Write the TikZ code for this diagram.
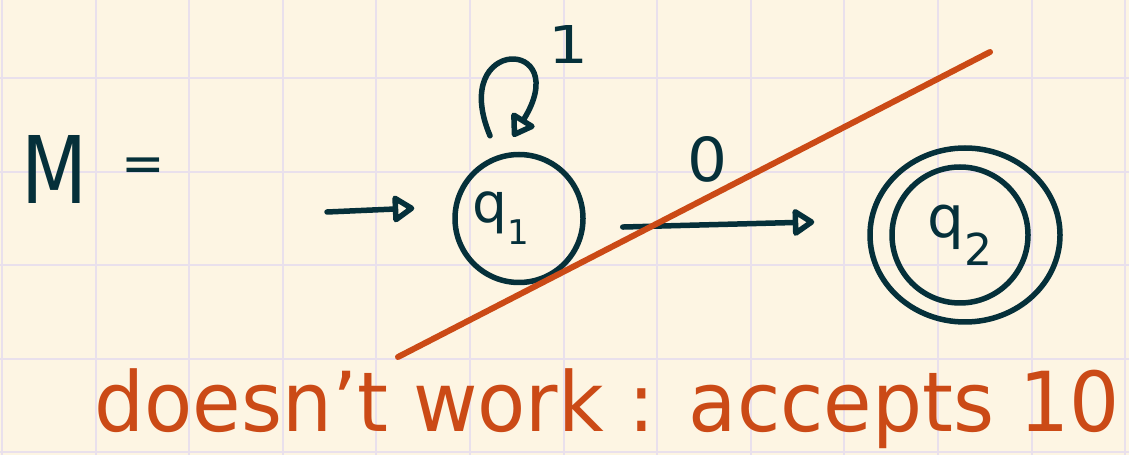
\documentclass[tikz,border=0pt]{standalone}
\usepackage{fontspec}
\setmainfont{DejaVu Sans}
\usetikzlibrary{arrows.meta}
\definecolor{bgc}{HTML}{FDF5E3}
\definecolor{gridc}{HTML}{E9E0EC}
\definecolor{inkc}{HTML}{05303A}
\definecolor{rustc}{HTML}{CB4A16}
\begin{document}
\begin{tikzpicture}[x=1pt,y=1pt,
  inkline/.style={draw=inkc, line width=5.5pt, line cap=round, line join=round},
  state/.style={circle, inkline, minimum size=128pt, inner sep=0pt, text=inkc},
  arr/.style={inkline, -{Triangle[open, length=24pt, width=30pt, round]}},
  redline/.style={draw=rustc, line width=6pt, line cap=round},
  hand/.style={text=inkc, inner sep=0pt},
  redhand/.style={text=rustc, inner sep=0pt},
  gridline/.style={draw=gridc, line width=2pt}
]
\fill[bgc] (0,0) rectangle (1129,455);
\useasboundingbox (0,0) rectangle (1129,455);
\foreach \i in {0,...,12} \draw[gridline] ({2+93.6*\i},0) -- ({2+93.6*\i},455);
\foreach \j in {0,...,4} \draw[gridline] (0,{3+93.4*\j}) -- (1129,{3+93.4*\j});

% M =
\node[hand] (M) at (55,286) {\resizebox{66pt}{68pt}{M}};
\node[hand] (eq) at (143,285) {\fontsize{52}{52}\selectfont =};

% states
\node[state] (q1) at (519,236.5) {\fontsize{55}{60}\selectfont q\raisebox{-22pt}{\fontsize{34}{34}\selectfont 1}\hspace*{36pt}};
\node[state, minimum size=136pt] (q2) at (960,220) {\fontsize{58}{60}\selectfont q\raisebox{-28pt}{\fontsize{44}{44}\selectfont 2}};
\draw[inkline] ([xshift=5pt]q2.center) ellipse[x radius=95pt, y radius=87pt];

% initial arrow
\coordinate (init) at (327,243);
\draw[arr, shorten >=38pt] (init) -- ([yshift=12pt]q1.west);

% self loop
\draw[arr] ([shift={(-29pt,16pt)}]q1.north) .. controls +(-42,100) and +(62,100) .. ([shift={(-6pt,15pt)}]q1.north)
  node[hand, pos=0.5, xshift=60pt, yshift=17pt] (l1) {\resizebox{40pt}{38pt}{1}};

% transition
\draw[arr, shorten <=37pt, shorten >=75pt] ([yshift=-9.5pt]q1.east) -- ([yshift=15pt]q2.west)
  node[hand, pos=0.4, above=40pt] (l0) {\resizebox{40pt}{45pt}{0}};

% cross-out line
\coordinate (c1) at (398,98);
\coordinate (c2) at (990,403);
\draw[redline] (c1) -- (c2);

% comment
\node[redhand, anchor=south west] (note) at (94,6) {\resizebox*{1025pt}{80pt}{doesn't work : accepts 10}};
\end{tikzpicture}
\end{document}
